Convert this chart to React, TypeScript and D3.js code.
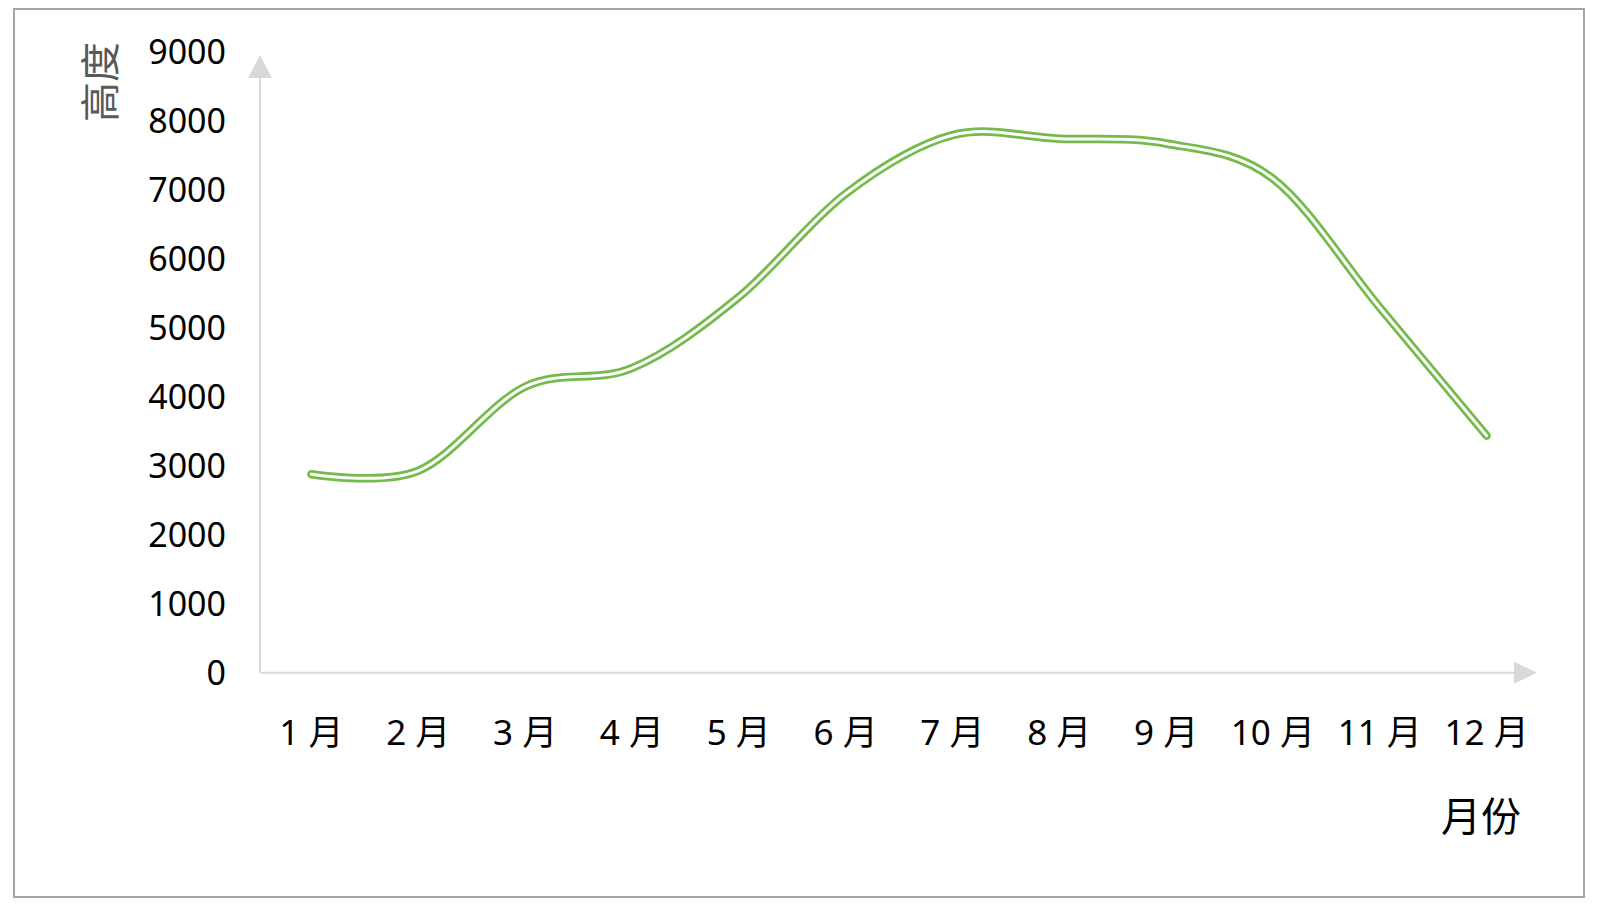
import React from "react";
import * as d3 from "d3";

// monthly values
const months = ["1 月", "2 月", "3 月", "4 月", "5 月", "6 月", "7 月", "8 月", "9 月", "10 月", "11 月", "12 月"];
const heights = [2880, 2930, 4150, 4420, 5450, 6950, 7800, 7750, 7680, 7170, 5300, 3440];
const yTicks = [0, 1000, 2000, 3000, 4000, 5000, 6000, 7000, 8000, 9000];
const xTitle = "月份";
const yTitle = "高度";

const W = 1600;
const H = 912;
const axisColor = "#d9d9d9";
const lineColor = "#74bb4b";
const font = "'Noto Sans', 'Noto Sans CJK SC', sans-serif";

function App() {
  const x = d3.scaleBand<string>().domain(months).range([258, 1540]);
  const y = d3.scaleLinear().domain([0, 9000]).range([672.7, 52.5]);
  const y0 = y(0);

  const line = d3
    .line<number>()
    .x((_, i) => (x(months[i]) as number) + x.bandwidth() / 2)
    .y((d) => y(d))
    .curve(d3.curveCardinal.tension(0));
  const path = line(heights) || "";

  const axisX = 260;
  return (
    <svg
      width={W}
      height={H}
      style={{ position: "fixed", left: 0, top: 0, background: "#fff" }}
      fontFamily={font}
    >
      <rect x={14} y={9} width={1570} height={888} fill="#fff" stroke="#a6a6a6" strokeWidth={2} />

      {/* axes with arrow heads */}
      <line x1={axisX} y1={y0} x2={axisX} y2={78} stroke={axisColor} strokeWidth={2} />
      <path d={`M${axisX},55 L${axisX - 12},78 L${axisX + 12},78 Z`} fill={axisColor} />
      <line x1={axisX} y1={y0} x2={1514} y2={y0} stroke={axisColor} strokeWidth={2} />
      <path d={`M1537,${y0} L1514,${y0 - 11} L1514,${y0 + 11} Z`} fill={axisColor} />

      {yTicks.map((t) => (
        <text key={t} x={226} y={y(t)} dy="0.35em" textAnchor="end" fontSize={34} fill="#000">
          {t}
        </text>
      ))}

      {months.map((m) => (
        <text
          key={m}
          x={(x(m) as number) + x.bandwidth() / 2}
          y={733}
          dy="0.35em"
          textAnchor="middle"
          fontSize={35}
          fill="#000"
        >
          {m}
        </text>
      ))}

      <text x={1481} y={817} dy="0.35em" textAnchor="middle" fontSize={40} fill="#000">
        {xTitle}
      </text>
      <text
        transform="translate(101,82) rotate(-90)"
        dy="0.35em"
        textAnchor="middle"
        fontSize={40}
        fill="#595959"
      >
        {yTitle}
      </text>

      {/* double-stroke smoothed line */}
      <path d={path} fill="none" stroke={lineColor} strokeWidth={8.5} strokeLinecap="round" strokeLinejoin="round" />
      <path d={path} fill="none" stroke="#fff" strokeWidth={3} strokeLinecap="round" strokeLinejoin="round" />
    </svg>
  );
}

export default App;
